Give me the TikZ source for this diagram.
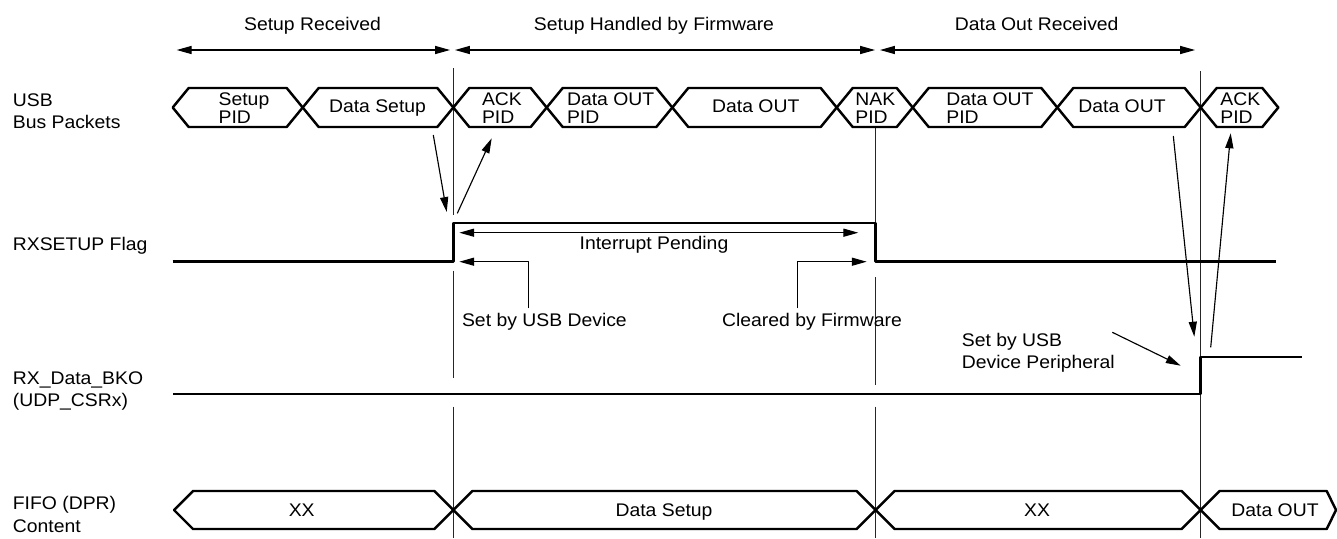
\documentclass[tikz,border=0pt]{standalone}
\usepackage{fontspec}
\setmainfont{Liberation Sans}[FakeStretch=1.06]
\usepackage{tikz}
\usetikzlibrary{arrows.meta}

\tikzset{
  sig/.style={line width=1.5pt},
  bus/.style={line width=1.4pt},
  guide/.style={line width=0.6pt, black!85},
  note/.style={line width=0.65pt},
  txt/.style={inner sep=0pt, font=\fontsize{10.4}{11.5}\selectfont},
}

\begin{document}
\begin{tikzpicture}[x=2cm, y=2cm, >={Triangle[length=8.5pt,width=4.6pt]}, line join=round]
  \useasboundingbox (0,0) rectangle (13.370,-5.380);
  % phase markers
  \coordinate (P0a) at (1.767,-0.500);
  \coordinate (P0b) at (4.500,-0.500);
  \coordinate (P1a) at (4.550,-0.500);
  \coordinate (P1b) at (8.750,-0.500);
  \coordinate (P2a) at (8.800,-0.500);
  \coordinate (P2b) at (11.950,-0.500);
  \draw[note,<->] (P0a) -- (P0b);
  \draw[note,<->] (P1a) -- (P1b);
  \draw[note,<->] (P2a) -- (P2b);
  \node[txt,anchor=base] (phRx) at (3.125,-0.305) {Setup Received};
  \node[txt,anchor=base] (phFw) at (6.540,-0.305) {Setup Handled by Firmware};
  \node[txt,anchor=base] (phOut) at (10.367,-0.305) {Data Out Received};
  % guide lines
  \draw[guide] (4.533,-0.680) -- (4.533,-2.150);
  \draw[guide] (4.533,-2.707) -- (4.533,-3.783);
  \draw[guide] (4.533,-4.067) -- (4.533,-5.380);
  \draw[guide] (8.757,-1.270) -- (8.757,-2.230);
  \draw[guide] (8.757,-2.773) -- (8.757,-3.850);
  \draw[guide] (8.757,-4.067) -- (8.757,-5.380);
  \draw[guide] (12.007,-0.710) -- (12.007,-5.380);
  % row names
  \node[txt,anchor=base west] (nUsb) at (0.125,-1.065) {USB};
  \node[txt,anchor=base west] (nBus) at (0.125,-1.280) {Bus Packets};
  \node[txt,anchor=base west] (nFlag) at (0.125,-2.500) {RXSETUP Flag};
  \node[txt,anchor=base west] (nBko) at (0.125,-3.840) {RX\_Data\_BKO};
  \node[txt,anchor=base west] (nCsr) at (0.125,-4.060) {(UDP\_CSRx)};
  \node[txt,anchor=base west] (nFifo) at (0.125,-5.095) {FIFO (DPR)};
  \node[txt,anchor=base west] (nCont) at (0.125,-5.320) {Content};
  % bus packets
  \draw[bus] (1.727,-1.075) -- (1.887,-0.880) -- (2.867,-0.880) -- (3.027,-1.075) -- (2.867,-1.270) -- (1.887,-1.270) -- cycle;
  \draw[bus] (3.027,-1.075) -- (3.187,-0.880) -- (4.373,-0.880) -- (4.533,-1.075) -- (4.373,-1.270) -- (3.187,-1.270) -- cycle;
  \draw[bus] (4.533,-1.075) -- (4.693,-0.880) -- (5.307,-0.880) -- (5.467,-1.075) -- (5.307,-1.270) -- (4.693,-1.270) -- cycle;
  \draw[bus] (5.467,-1.075) -- (5.627,-0.880) -- (6.563,-0.880) -- (6.723,-1.075) -- (6.563,-1.270) -- (5.627,-1.270) -- cycle;
  \draw[bus] (6.723,-1.075) -- (6.883,-0.880) -- (8.207,-0.880) -- (8.367,-1.075) -- (8.207,-1.270) -- (6.883,-1.270) -- cycle;
  \draw[bus] (8.367,-1.075) -- (8.527,-0.880) -- (8.967,-0.880) -- (9.127,-1.075) -- (8.967,-1.270) -- (8.527,-1.270) -- cycle;
  \draw[bus] (9.127,-1.075) -- (9.287,-0.880) -- (10.413,-0.880) -- (10.573,-1.075) -- (10.413,-1.270) -- (9.287,-1.270) -- cycle;
  \draw[bus] (10.573,-1.075) -- (10.733,-0.880) -- (11.847,-0.880) -- (12.007,-1.075) -- (11.847,-1.270) -- (10.733,-1.270) -- cycle;
  \draw[bus] (12.007,-1.075) -- (12.167,-0.880) -- (12.623,-0.880) -- (12.783,-1.075) -- (12.623,-1.270) -- (12.167,-1.270) -- cycle;
  \node[txt,anchor=base west] (kSetA) at (2.183,-1.055) {Setup};
  \node[txt,anchor=base west] (kSetB) at (2.183,-1.235) {PID};
  \node[txt,anchor=base] (kDset) at (3.775,-1.125) {Data Setup};
  \node[txt,anchor=base west] (kAckA) at (4.817,-1.055) {ACK};
  \node[txt,anchor=base west] (kAckB) at (4.817,-1.235) {PID};
  \node[txt,anchor=base west] (kOutA) at (5.667,-1.055) {Data OUT};
  \node[txt,anchor=base west] (kOutB) at (5.667,-1.235) {PID};
  \node[txt,anchor=base] (kOut) at (7.558,-1.125) {Data OUT};
  \node[txt,anchor=base west] (kNakA) at (8.550,-1.055) {NAK};
  \node[txt,anchor=base west] (kNakB) at (8.550,-1.235) {PID};
  \node[txt,anchor=base west] (kOut2A) at (9.460,-1.055) {Data OUT};
  \node[txt,anchor=base west] (kOut2B) at (9.460,-1.235) {PID};
  \node[txt,anchor=base] (kOut2) at (11.220,-1.125) {Data OUT};
  \node[txt,anchor=base west] (kAck2A) at (12.200,-1.055) {ACK};
  \node[txt,anchor=base west] (kAck2B) at (12.200,-1.235) {PID};
  % RXSETUP flag
  \draw[sig] (1.727,-2.615) -- (4.533,-2.615) -- (4.533,-2.230) -- (8.757,-2.230) -- (8.757,-2.615) -- (12.760,-2.615);
  \coordinate (IpL) at (4.593,-2.327);
  \coordinate (IpR) at (8.583,-2.327);
  \draw[note,<->] (IpL) -- (IpR);
  \node[txt,anchor=base] (tIp) at (6.540,-2.490) {Interrupt Pending};
  \coordinate (SdFoot) at (5.283,-3.083);
  \coordinate (SdTip) at (4.593,-2.617);
  \draw[note,->] (SdFoot) |- (SdTip);
  \node[txt,anchor=base west] (tSd) at (4.617,-3.265) {Set by USB Device};
  \coordinate (CfFoot) at (7.973,-3.083);
  \coordinate (CfTip) at (8.667,-2.617);
  \draw[note,->] (CfFoot) |- (CfTip);
  \node[txt,anchor=base west] (tCf) at (7.217,-3.265) {Cleared by Firmware};
  % packet to flag
  \coordinate (DsOut) at (4.333,-1.350);
  \coordinate (FlagUp) at (4.467,-2.120);
  \coordinate (FlagSt) at (4.573,-2.133);
  \coordinate (AckIn) at (4.917,-1.383);
  \draw[note,->] (DsOut) -- (FlagUp);
  \draw[note,->] (FlagSt) -- (AckIn);
  % RX_Data_BKO
  \draw[sig] (1.730,-3.940) -- (12.007,-3.940) -- (12.007,-3.570) -- (13.017,-3.570);
  \node[txt,anchor=base west] (tPer1) at (9.615,-3.465) {Set by USB};
  \node[txt,anchor=base west] (tPer2) at (9.615,-3.685) {Device Peripheral};
  \coordinate (PerSt) at (11.123,-3.323);
  \coordinate (PerTip) at (11.807,-3.657);
  \draw[note,->] (PerSt) -- (PerTip);
  \coordinate (DoOut) at (11.733,-1.360);
  \coordinate (BkoUp) at (11.943,-3.367);
  \coordinate (BkoSt) at (12.107,-3.473);
  \coordinate (Ack2In) at (12.307,-1.333);
  \draw[note,->] (DoOut) -- (BkoUp);
  \draw[note,->] (BkoSt) -- (Ack2In);
  % FIFO content
  \draw[bus] (1.740,-5.100) -- (1.930,-4.910) -- (4.343,-4.910) -- (4.533,-5.100) -- (4.343,-5.290) -- (1.930,-5.290) -- cycle;
  \draw[bus] (4.533,-5.100) -- (4.723,-4.910) -- (8.567,-4.910) -- (8.757,-5.100) -- (8.567,-5.290) -- (4.723,-5.290) -- cycle;
  \draw[bus] (8.757,-5.100) -- (8.947,-4.910) -- (11.817,-4.910) -- (12.007,-5.100) -- (11.817,-5.290) -- (8.947,-5.290) -- cycle;
  \draw[bus] (12.007,-5.100) -- (12.197,-4.910) -- (13.267,-4.910) -- (13.360,-5.100) -- (13.267,-5.290) -- (12.197,-5.290) -- cycle;
  \node[txt,anchor=base] (fXx) at (3.017,-5.165) {XX};
  \node[txt,anchor=base] (fDset) at (6.640,-5.165) {Data Setup};
  \node[txt,anchor=base] (fXx2) at (10.370,-5.165) {XX};
  \node[txt,anchor=base] (fOut) at (12.750,-5.165) {Data OUT};
\end{tikzpicture}
\end{document}
